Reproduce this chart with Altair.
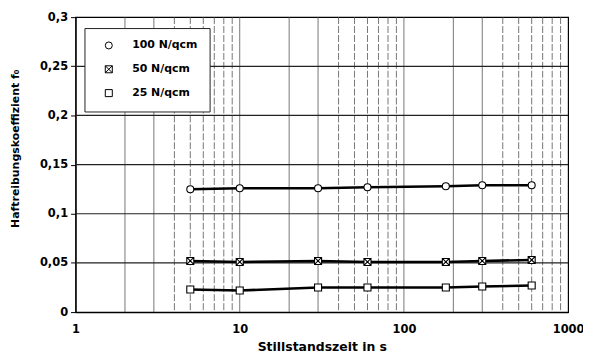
import altair as alt
import pandas as pd

zeit = [5, 10, 30, 60, 180, 300, 600]
f_100 = [0.125, 0.126, 0.126, 0.127, 0.128, 0.129, 0.129]
f_50 = [0.052, 0.051, 0.052, 0.051, 0.051, 0.052, 0.053]
f_25 = [0.023, 0.022, 0.025, 0.025, 0.025, 0.026, 0.027]
serien = ["100 N/qcm", "50 N/qcm", "25 N/qcm"]

x_solid = [2, 3, 10, 20, 30, 100, 200, 300]
x_dashed = [4, 5, 6, 7, 8, 9, 40, 50, 60, 70, 80, 90, 400, 500, 600, 700, 800, 900]
y_grid = [0.05, 0.1, 0.15, 0.2, 0.25]

rows = []
for name, vals in zip(serien, [f_100, f_50, f_25]):
    for t, v in zip(zeit, vals):
        rows.append({"zeit": t, "f": v, "serie": name})
df = pd.DataFrame(rows)

FONT = "DejaVu Sans"

xs = alt.Scale(type="log", domain=[1, 1000], nice=False)
ys = alt.Scale(domain=[0, 0.3], nice=False, zero=True)

x_axis = alt.Axis(values=[1, 10, 100, 1000], format="d", grid=False, ticks=False,
                  labelFlush=False,
                  title="Stillstandszeit in s", labelPadding=12, titlePadding=5)
y_axis = alt.Axis(values=[0, 0.05, 0.1, 0.15, 0.2, 0.25, 0.3], grid=False, tickSize=5,
                  labelExpr="replace(format(datum.value, '.2~f'), '.', ',')",
                  title="Haftreibungskoeffizient f₀", titleFontSize=11,
                  titleX=-55, titleY=132, labelPadding=3)

grid_solid = alt.Chart(pd.DataFrame({"x": x_solid})).mark_rule(
    color="#555", strokeWidth=0.8
).encode(x=alt.X("x:Q", scale=xs, axis=x_axis))

grid_dashed = alt.Chart(pd.DataFrame({"x": x_dashed})).mark_rule(
    color="#555", strokeWidth=0.8, strokeDash=[7, 2]
).encode(x=alt.X("x:Q", scale=xs))

grid_h = alt.Chart(pd.DataFrame({"y": y_grid})).mark_rule(
    color="#222", strokeWidth=1.2
).encode(y=alt.Y("y:Q", scale=ys, axis=y_axis))

lines = alt.Chart(df).mark_line(color="black", strokeWidth=2.6).encode(
    x=alt.X("zeit:Q", scale=xs),
    y=alt.Y("f:Q", scale=ys),
    detail="serie:N",
)

cross_sq = "M-1,-1H1V1H-1Z M-1,-1L1,1 M1,-1L-1,1"
sq = "M-1,-1H1V1H-1Z"

points = alt.Chart(df).mark_point(
    filled=True, fill="white", stroke="black", strokeWidth=1.1, size=50, opacity=1
).encode(
    x=alt.X("zeit:Q", scale=xs),
    y=alt.Y("f:Q", scale=ys),
    shape=alt.Shape(
        "serie:N",
        scale=alt.Scale(domain=serien, range=["circle", cross_sq, sq]),
        sort=serien,
        legend=alt.Legend(
            title=None, orient="none", legendX=9, legendY=11,
            fillColor="white", strokeColor="#222", padding=12,
            symbolSize=50, symbolStrokeWidth=1, symbolOffset=7,
            labelFont=FONT, labelFontSize=11, labelFontWeight="bold",
            labelColor="black",
            labelOffset=18, rowPadding=11,
            labelExpr="datum.label + '\u00a0\u00a0\u00a0\u00a0\u00a0'",
        ),
    ),
)

chart = alt.layer(grid_solid, grid_dashed, grid_h, lines, points).properties(
    width=496, height=297,
    padding={"left": 68, "top": 8, "right": 15, "bottom": 41},
    autosize=alt.AutoSizeParams(type="none"),
).configure_view(stroke="black", strokeWidth=1.2).configure_axis(
    domainColor="black", domainWidth=1.2, tickColor="black",
    labelFont=FONT, labelFontSize=11.5, labelFontWeight="bold", labelColor="black",
    titleFont=FONT, titleFontSize=12.5, titleFontWeight="bold", titleColor="black",
)

chart.save("out.html", embed_options={"renderer": "svg", "actions": False})
